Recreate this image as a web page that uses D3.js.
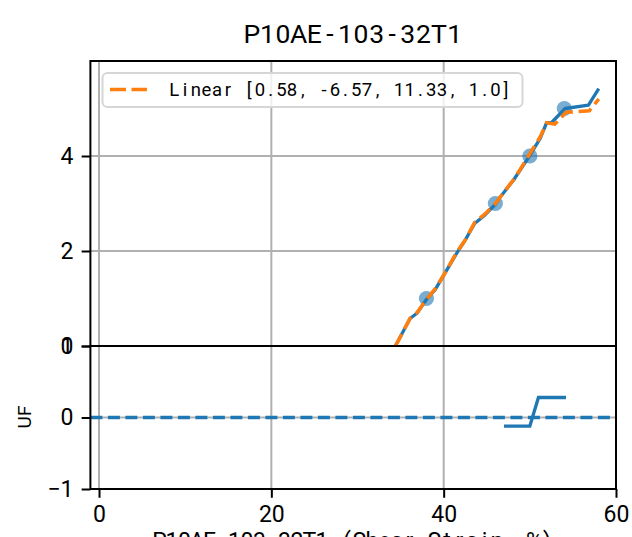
<!DOCTYPE html>
<html>
<head>
<meta charset="utf-8">
<script src="https://cdn.jsdelivr.net/npm/d3@7"></script>
<style>
  html, body { margin: 0; padding: 0; background: #fff; }
  svg { display: block; }
</style>
</head>
<body>
<div id="chart"></div>
<script>
// ---------------- data ----------------
const titleText = "P10AE-103-32T1";
const xLabelText = "P10AE-103-32T1 (Shear Strain, %)";
const yLabelBottom = "UF";
const legendLabel = "Linear [0.58, -6.57, 11.33, 1.0]";

const xTicks = [0, 20, 40, 60];
const yTopTicks = [0, 2, 4];
const yBotTicks = [-1, 0, 1];

// measured series (blue, solid)
const measX = [34.4, 36.1, 36.9, 38.0, 39.0, 40.1, 41.5, 42.5, 43.6, 44.8, 46.0, 46.5, 48.1, 48.9, 49.9, 51.2, 51.95, 52.5, 54.1, 56.8, 58.0];
const measY = [0.0, 0.58, 0.69, 0.98, 1.18, 1.52, 1.95, 2.23, 2.58, 2.76, 2.98, 3.12, 3.49, 3.71, 3.98, 4.37, 4.70, 4.70, 5.00, 5.07, 5.42];

// linear fit series (orange, dashed)
const fitX = [34.4, 36.1, 36.9, 38.0, 39.0, 40.1, 41.5, 42.5, 43.6, 44.8, 46.0, 46.5, 48.1, 48.9, 49.9, 51.2, 51.95, 52.9, 54.2, 56.9, 58.0];
const fitY = [0.0, 0.58, 0.70, 0.98, 1.20, 1.52, 1.97, 2.23, 2.60, 2.78, 3.00, 3.12, 3.50, 3.72, 4.02, 4.40, 4.70, 4.67, 4.92, 4.95, 5.20];

// scatter points
const ptX = [38, 46, 50, 54];
const ptY = [1, 3, 4, 5];

// UF residual series (bottom panel)
const ufX = [47, 50, 51, 54.2];
const ufY = [-0.12, -0.12, 0.28, 0.28];
const ufRef = 0;

// ---------------- layout ----------------
const W = 632, H = 537;
const C0 = "#1f77b4", C1 = "#ff7f0e", GRID = "#b0b0b0";
const FONT = "Roboto, 'DejaVu Sans', sans-serif";
const L = 90.4, R = 616;
const topT = 61, midY = 346, botB = 489;

const svg = d3.select("#chart").append("svg").attr("width", W).attr("height", H);

const x = d3.scaleLinear().domain([-1, 60]).range([L, R]);
const yT = d3.scaleLinear().domain([0, 6]).range([midY, topT]);
const yB = d3.scaleLinear().domain([-1, 1]).range([botB, midY]);

const defs = svg.append("defs");
defs.append("clipPath").attr("id", "clipT").append("rect")
  .attr("x", L).attr("y", topT).attr("width", R - L).attr("height", midY - topT);
defs.append("clipPath").attr("id", "clipB").append("rect")
  .attr("x", L).attr("y", midY).attr("width", R - L).attr("height", botB - midY);

// per-character monospace text helper (each glyph centred in its cell)
function monoText(g, str, startX, y, pitch, size) {
  const xs = Array.from(str).map((c, i) => (startX + (i + 0.5) * pitch).toFixed(2)).join(" ");
  return g.append("text").attr("x", xs).attr("y", y)
    .attr("text-anchor", "middle")
    .attr("font-family", FONT).attr("font-size", size).attr("fill", "#000")
    .attr("xml:space", "preserve").style("white-space", "pre").text(str);
}

// ---------------- grids ----------------
const grid = svg.append("g");
xTicks.forEach(t => {
  grid.append("line").attr("x1", x(t)).attr("x2", x(t)).attr("y1", topT).attr("y2", botB)
    .attr("stroke", GRID).attr("stroke-width", 2);
});
yTopTicks.forEach(t => {
  grid.append("line").attr("x1", L).attr("x2", R).attr("y1", yT(t)).attr("y2", yT(t))
    .attr("stroke", GRID).attr("stroke-width", 2);
});
yBotTicks.forEach(t => {
  grid.append("line").attr("x1", L).attr("x2", R).attr("y1", yB(t)).attr("y2", yB(t))
    .attr("stroke", GRID).attr("stroke-width", 2);
});

// ---------------- top panel data ----------------
const gT = svg.append("g").attr("clip-path", "url(#clipT)");
gT.selectAll("circle").data(ptX.map((d, i) => [d, ptY[i]])).enter().append("circle")
  .attr("cx", d => x(d[0])).attr("cy", d => yT(d[1])).attr("r", 7.6)
  .attr("fill", C0).attr("fill-opacity", 0.6);

const lineT = d3.line().x(d => x(d[0])).y(d => yT(d[1]));
gT.append("path").datum(measX.map((d, i) => [d, measY[i]]))
  .attr("d", lineT).attr("fill", "none").attr("stroke", C0).attr("stroke-width", 3.3)
  .attr("stroke-linejoin", "round");
gT.append("path").datum(fitX.map((d, i) => [d, fitY[i]]))
  .attr("d", lineT).attr("fill", "none").attr("stroke", C1).attr("stroke-width", 3.6)
  .attr("stroke-dasharray", "13.5,5.8");

// ---------------- bottom panel data ----------------
const gB = svg.append("g").attr("clip-path", "url(#clipB)");
gB.append("line").attr("x1", L).attr("x2", R).attr("y1", yB(ufRef)).attr("y2", yB(ufRef))
  .attr("stroke", C0).attr("stroke-width", 3.3).attr("stroke-dasharray", "12,5.5");
const lineB = d3.line().x(d => x(d[0])).y(d => yB(d[1]));
gB.append("path").datum(ufX.map((d, i) => [d, ufY[i]]))
  .attr("d", lineB).attr("fill", "none").attr("stroke", C0).attr("stroke-width", 3.3);

// ---------------- axes ----------------
function styleAxis(g) {
  g.select(".domain").remove();
  g.selectAll(".tick line").attr("stroke", "#000").attr("stroke-width", 2);
  g.selectAll(".tick text").attr("font-family", FONT).attr("font-size", 23).attr("fill", "#000");
}
svg.append("g").attr("transform", `translate(0,${botB})`)
  .call(d3.axisBottom(x).tickValues(xTicks).tickSize(8.75).tickPadding(8.2).tickFormat(d3.format("d")))
  .call(styleAxis);
svg.append("g").attr("transform", `translate(0,${midY})`)
  .call(d3.axisBottom(x).tickValues(xTicks).tickSize(0).tickFormat(""))
  .call(styleAxis);
svg.append("g").attr("transform", `translate(${L},0)`)
  .call(d3.axisLeft(yT).tickValues(yTopTicks).tickSize(8.75).tickPadding(8.2).tickFormat(d3.format("d")))
  .call(styleAxis);
svg.append("g").attr("transform", `translate(${L},0)`)
  .call(d3.axisLeft(yB).tickValues(yBotTicks).tickSize(8.75).tickPadding(8.2).tickFormat(d3.format("d")))
  .call(styleAxis);

// spines
const sp = svg.append("g").attr("fill", "none").attr("stroke", "#000").attr("stroke-width", 2);
sp.append("rect").attr("x", L).attr("y", topT).attr("width", R - L).attr("height", midY - topT);
sp.append("rect").attr("x", L).attr("y", midY).attr("width", R - L).attr("height", botB - midY);

// ---------------- legend ----------------
const lg = svg.append("g");
lg.append("rect").attr("x", 102.5).attr("y", 73).attr("width", 420).attr("height", 34)
  .attr("rx", 5).attr("ry", 5).attr("fill", "#fff").attr("fill-opacity", 0.8)
  .attr("stroke", "#d6d6d6").attr("stroke-width", 2);
lg.append("line").attr("x1", 110).attr("x2", 147).attr("y1", 89.5).attr("y2", 89.5)
  .attr("stroke", C1).attr("stroke-width", 3.6).attr("stroke-dasharray", "16,5.5");
monoText(lg, legendLabel, 169, 96.3, 10.7, 18.5);

// ---------------- titles & labels ----------------
const nT = Array.from(titleText).length;
monoText(svg, titleText, (L + R) / 2 - nT * 15.6 / 2, 42.5, 15.6, 26.5);

const nX = Array.from(xLabelText).length;
monoText(svg, xLabelText, (L + R) / 2 - nX * 12.5 / 2, 549, 12.5, 23);

svg.append("text").attr("transform", "translate(31,417) rotate(-90)")
  .attr("text-anchor", "middle").attr("font-family", FONT).attr("font-size", 19)
  .attr("fill", "#000").text(yLabelBottom);
</script>
</body>
</html>
